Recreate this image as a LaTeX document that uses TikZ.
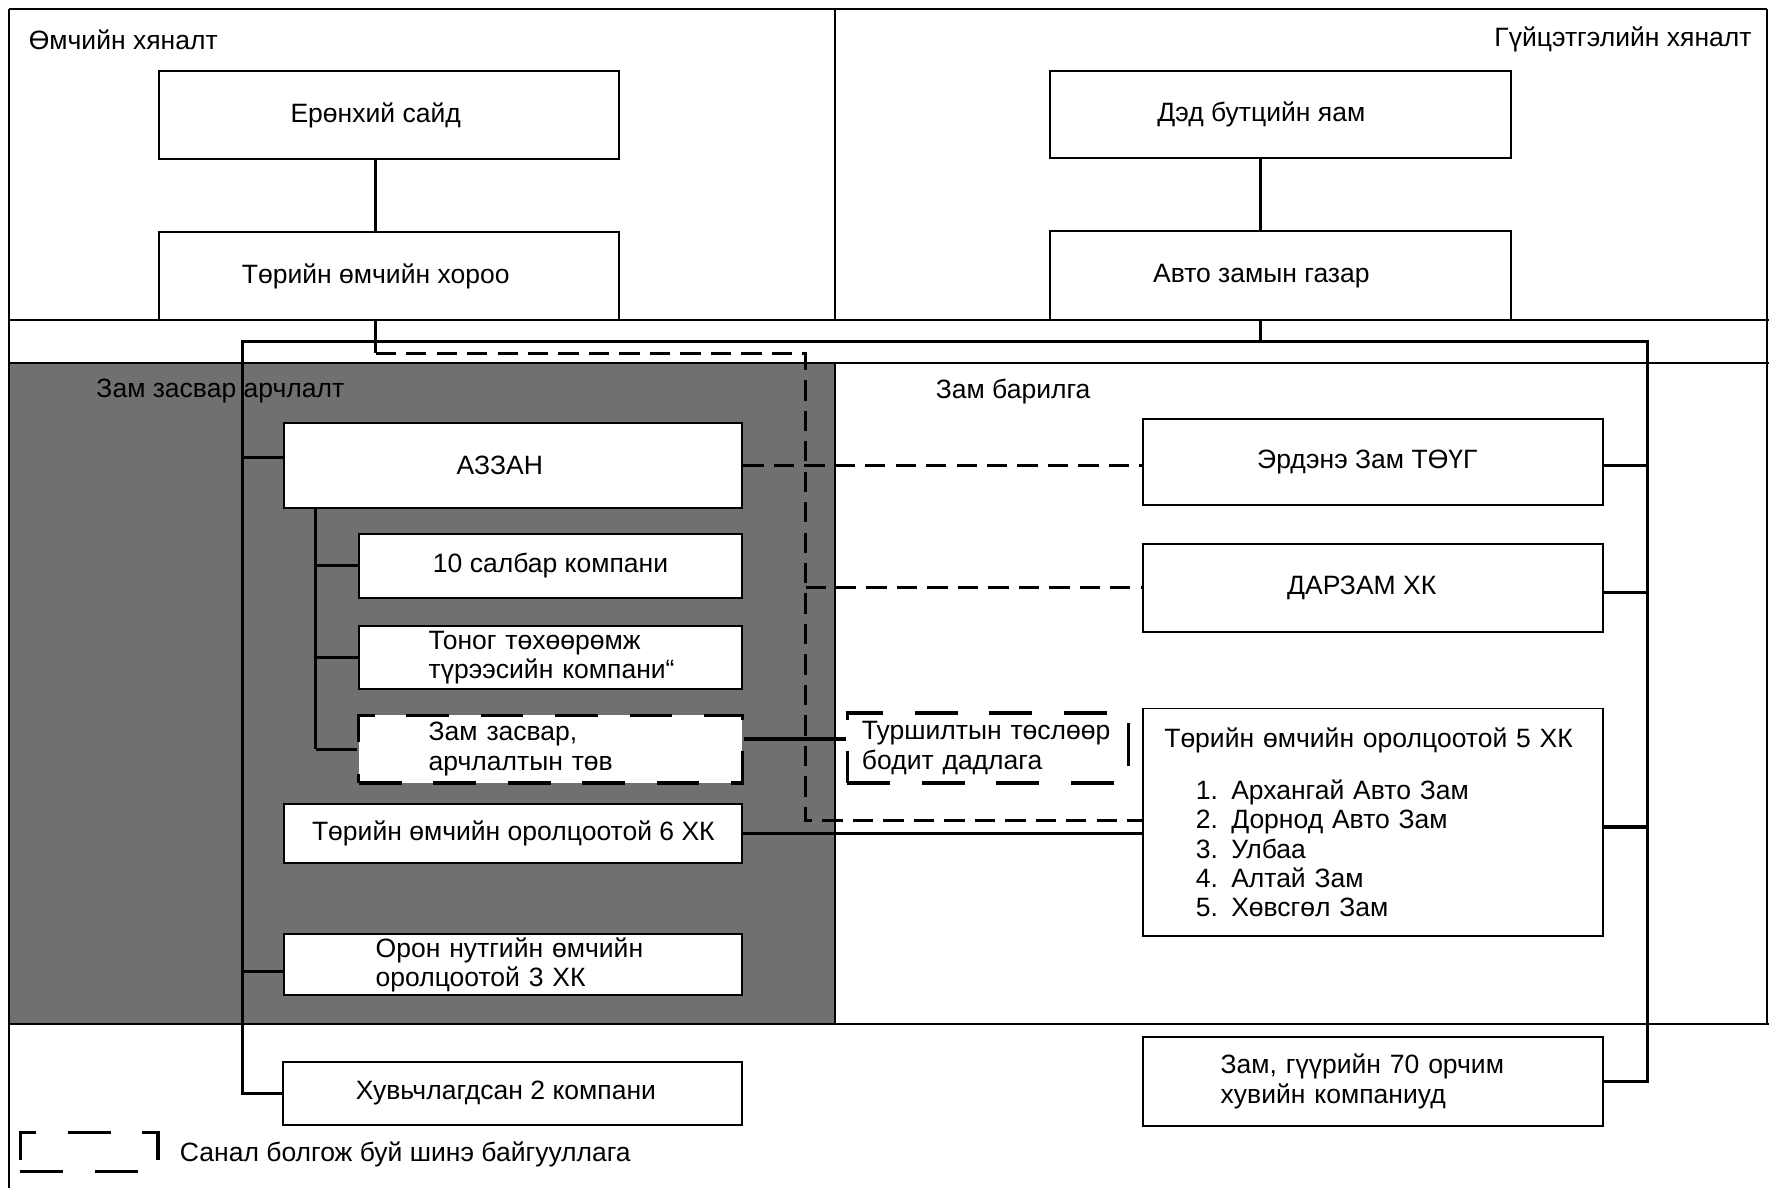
\documentclass[tikz,border=0pt]{standalone}
\usepackage{fontspec}
\setmainfont{Liberation Sans}
\definecolor{maintgray}{RGB}{112,112,112}
\begin{document}
\begin{tikzpicture}[x=1pt,y=-1pt,
  font=\fontsize{23.5}{26}\selectfont,
  box/.style={draw, line width=1.7pt, fill=white, inner sep=0pt},
  conn/.style={line width=2.8pt},
  dconn/.style={line width=2.8pt, dash pattern=on 18pt off 9pt},
  regionline/.style={line width=1.8pt},
  newbox/.style={line width=2.8pt, dash pattern=on 38pt off 28pt}
]
\useasboundingbox (0,0) rectangle (1568,1053);
\fill[white] (0,0) rectangle (1568,1053);
\fill[maintgray] (8,322) rectangle (740,908);
% region borders
\draw[regionline, line width=2.4pt] (8,8) -- (1566,8);
\draw[regionline] (8,8) -- (8,1053);
\draw[regionline] (1566,8) -- (1566,908);
\draw[regionline] (740,8) -- (740,284);
\draw[regionline] (8,284) -- (1568,284);
\draw[regionline] (8,322) -- (1568,322);
\draw[regionline] (740,322) -- (740,908);
\draw[regionline] (8,908) -- (1568,908);

% region labels
\node[anchor=west] (lblOwn) at (22,35) {Өмчийн хяналт};
\node[anchor=east] (lblExec) at (1556,35) {Гүйцэтгэлийн хяналт};
\node[anchor=west] (lblMaint) at (82,347) {Зам засвар арчлалт};
\node[anchor=west] (lblBuild) at (826,347) {Зам барилга};

% top boxes
\node[box, minimum width=408, minimum height=78] (pm) at (345,102) {\hspace*{-24pt}Ерөнхий сайд};
\node[box, minimum width=408, minimum height=78] (toh) at (345,245) {\hspace*{-24pt}Төрийн өмчийн хороо};
\node[box, minimum width=408, minimum height=77] (ded) at (1135,101.5) {\hspace*{-34pt}Дэд бутцийн яам};
\node[box, minimum width=408, minimum height=79] (avto) at (1135,244.5) {\hspace*{-34pt}Авто замын газар};

% maintenance side
\node[box, minimum width=406, minimum height=75] (azzan) at (455,412.5) {\hspace*{-24pt}АЗЗАН};
\node[box, minimum width=340, minimum height=57] (salbar) at (488,501.5) {10 салбар компани};
\node[box, minimum height=56, text width=340, inner xsep=0pt, align=left] (tonog) at (488,583) {\hspace*{62pt}Тоног төхөөрөмж\\\hspace*{62pt}түрээсийн компани“};
\node[box, newbox, minimum height=60, text width=340, inner xsep=0pt, align=left] (zzt) at (488,664) {\hspace*{62pt}Зам засвар,\\\hspace*{62pt}арчлалтын төв};
\node[box, minimum width=406, minimum height=52] (x6) at (455,739) {Төрийн өмчийн оролцоотой 6 ХК};
\node[box, minimum height=54, text width=406, inner xsep=0pt, align=left] (x3) at (455,855) {\hspace*{81pt}Орон нутгийн өмчийн\\\hspace*{81pt}оролцоотой 3 ХК};
\node[box, minimum width=407, minimum height=56] (huv) at (454.5,969) {\hspace*{-12pt}Хувьчлагдсан 2 компани};

% construction side
\node[box, minimum width=408, minimum height=77] (erdene) at (1217,409.5) {\hspace*{-10pt}Эрдэнэ Зам ТӨҮГ};
\node[box, minimum width=408, minimum height=78] (darzam) at (1217,521) {\hspace*{-20pt}ДАРЗАМ ХК};
\node[box, minimum height=202, text width=408, inner xsep=0pt, align=left] (x5) at (1217,729)
  {\hspace*{19pt}Төрийн өмчийн оролцоотой 5 ХК\\[20pt]
   \hspace*{47pt}1. Архангай Авто Зам\\
   \hspace*{47pt}2. Дорнод Авто Зам\\
   \hspace*{47pt}3. Улбаа\\
   \hspace*{47pt}4. Алтай Зам\\
   \hspace*{47pt}5. Хөвсгөл Зам};
\node[box, minimum height=79, text width=408, inner xsep=0pt, align=left] (x70) at (1217,958.5) {\hspace*{69pt}Зам, гүүрийн 70 орчим\\\hspace*{69pt}хувийн компаниуд};
\node[box, newbox, minimum height=62, text width=249, inner xsep=0pt, align=left] (tursh) at (875.5,663) {\hspace*{13pt}Туршилтын төслөөр\\\hspace*{13pt}бодит дадлага};

% legend
\node[newbox, draw, minimum width=122, minimum height=34, inner sep=0pt] (legend) at (79,1021) {};
\node[anchor=west] (legendtxt) at (156,1023) {Санал болгож буй шинэ байгууллага};

% coordinates
\coordinate (fTL) at (215,303);
\coordinate (fTR) at (1460,303);
\coordinate (tk) at (333,313);
\coordinate (d1) at (714,313);
\coordinate (d2) at (714,727);
\coordinate (inn) at (280,450);

% connectors
\draw[conn] ([xshift=-12pt]pm.south) -- ([xshift=-12pt]toh.north);
\draw[conn] ([xshift=-18pt]ded.south) -- ([xshift=-18pt]avto.north);
\draw[conn] ([xshift=-12pt]toh.south) -- (tk);
\draw[dconn] (tk) -- (d1) -- (d2) -- (d2 -| x5.west);
\draw[conn] ([xshift=-18pt]avto.south) -- ([xshift=-18pt]avto.south |- fTL);
\draw[conn] (huv.west) -| (fTL) -- (fTR) |- (x70.east);
\draw[conn] ([yshift=7pt]azzan.west -| fTL) -- ([yshift=7pt]azzan.west);
\draw[conn] ([yshift=-6pt]x3.west -| fTL) -- ([yshift=-6pt]x3.west);
\draw[conn] ([yshift=-3pt]erdene.east) -- ([yshift=-3pt]erdene.east -| fTR);
\draw[conn] ([yshift=-4pt]darzam.east) -- ([yshift=-4pt]darzam.east -| fTR);
\draw[conn] ([yshift=-4pt]x5.east) -- ([yshift=-4pt]x5.east -| fTR);
\draw[conn] (azzan.south -| inn) -- (zzt.west -| inn);
\draw[conn] (salbar.west -| inn) -- (salbar.west);
\draw[conn] (tonog.west -| inn) -- (tonog.west);
\draw[conn] (zzt.west -| inn) -- (zzt.west);
\draw[dconn] (azzan.east) -- (azzan.east -| erdene.west);
\draw[dconn] (d1 |- darzam.west) -- (darzam.west);
\draw[conn] ([yshift=9pt]zzt.east) -- ([yshift=9pt]zzt.east -| tursh.west);
\draw[conn] (x6.east) -- (x6.east -| x5.west);
\end{tikzpicture}
\end{document}
